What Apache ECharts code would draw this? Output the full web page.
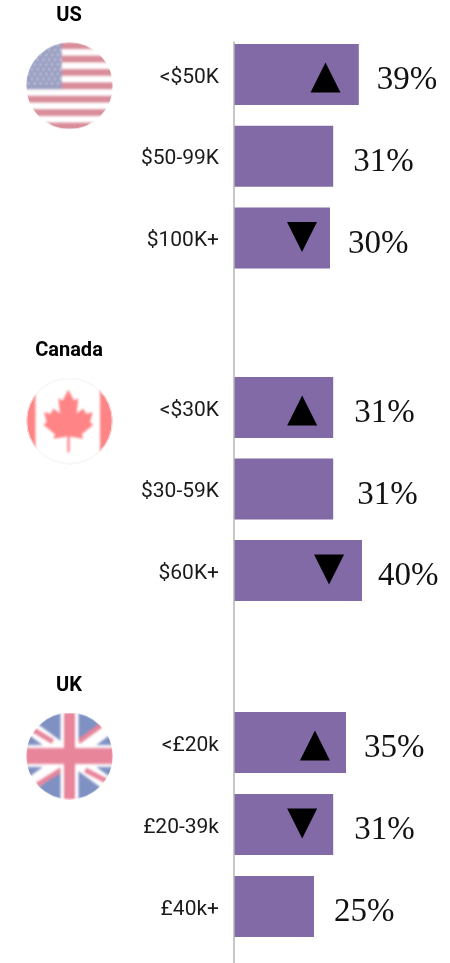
<!DOCTYPE html>
<html><head><meta charset="utf-8">
<style>html,body{margin:0;padding:0;background:#fff}#c{width:450px;height:963px}</style>
<script src="https://cdn.jsdelivr.net/npm/echarts@6/dist/echarts.min.js"></script>
</head><body><div id="c"></div>
<script>
// ---- data ----
const countries = ['US', 'Canada', 'UK'];
const usCategories = ['<$50K', '$50-99K', '$100K+'];
const caCategories = ['<$30K', '$30-59K', '$60K+'];
const ukCategories = ['<£20k', '£20-39k', '£40k+'];
const usValues = [39, 31, 30];
const caValues = [31, 31, 40];
const ukValues = [35, 31, 25];
const usTrend = ['up', null, 'down'];
const caTrend = ['up', null, 'down'];
const ukTrend = ['up', 'down', null];

// ---- layout / style ----
const PURPLE = '#826aa6';
const groupLayout = [
  {top: 33.6, height: 245.25, titleTop: 6, flagY: 42.3},
  {top: 366.75, height: 244.5, titleTop: 341, flagY: 377.5},
  {top: 701.5, height: 246, titleTop: 676, flagY: 712.5}
];
const labelGaps = [[18, 20, 18], [21, 24, 16], [18, 21, 20]];
const markerInset = [[10.4, 0, 8.75], [9.7, 0, 10.3], [9.7, 9.7, 0]];

function drawUS(g, s) {
  g.fillStyle = '#fff'; g.fillRect(0, 0, s, s);
  g.fillStyle = '#d98c9a';
  for (let i = 0; i < 13; i += 2) g.fillRect(0, i * s / 13, s, s / 13);
  g.fillStyle = '#9a9fc2'; g.fillRect(0, 0, s * 0.41, s * 7 / 13);
  g.fillStyle = '#e6e6f0';
  for (let r = 0; r < 9; r++) for (let c = 0; c < 6; c++) {
    g.beginPath();
    g.arc(s * 0.035 + c * s * 0.066 + (r % 2 ? s * 0.033 : 0), s * 0.035 + r * s * 0.055, s * 0.012, 0, 7);
    g.fill();
  }
}
function drawCA(g, s) {
  const k = s / 87;
  g.fillStyle = '#fff'; g.fillRect(0, 0, s, s);
  g.fillStyle = '#ff8486';
  g.fillRect(0, 0, 9.5 * k, s); g.fillRect(74 * k, 0, 14 * k, s);
  const leaf = [[205,165],[222,197],[235,190],[230,235],[250,222],[258,237],[278,232],[270,262],[280,270],[245,298],[250,312],[209,305],[209,352],[202,352],[202,305],[160,312],[165,298],[130,270],[140,262],[132,232],[152,237],[160,222],[180,235],[175,190],[188,197]];
  g.beginPath();
  leaf.forEach((p, i) => {
    const x = (p[0] - 78) / 3 * k, y = (p[1] - 128) / 3 * k;
    i ? g.lineTo(x, y) : g.moveTo(x, y);
  });
  g.closePath(); g.fill();
}
function drawUK(g, s) {
  const m = s / 2;
  g.fillStyle = '#7f90c2'; g.fillRect(0, 0, s, s);
  g.strokeStyle = '#fff'; g.lineWidth = 14;
  const dx = 60, dy = 44;
  g.beginPath();
  g.moveTo(m - dx, m - dy); g.lineTo(m + dx, m + dy);
  g.moveTo(m + dx, m - dy); g.lineTo(m - dx, m + dy);
  g.stroke();
  g.strokeStyle = '#e8859b'; g.lineWidth = 5;
  const reds = [[-36, -26, -16.7, -14.3], [32, -31, 9, -14.3], [40.7, 27, 15.7, 14], [-32.7, 29, -6, 12.3]];
  g.beginPath();
  reds.forEach(r => { g.moveTo(m + r[0], m + r[1]); g.lineTo(m + r[2], m + r[3]); });
  g.stroke();
  g.fillStyle = '#fff';
  g.fillRect(m - 9, 0, 18, s); g.fillRect(0, m - 11, s, 22);
  g.fillStyle = '#e8859b';
  g.fillRect(m - 5.5, 0, 11, s); g.fillRect(0, m - 8, s, 16);
}
function flag(draw, ring) {
  const S = 87, cv = document.createElement('canvas');
  cv.width = cv.height = S;
  const tmp = document.createElement('canvas');
  tmp.width = tmp.height = S;
  draw(tmp.getContext('2d'), S);
  const g = cv.getContext('2d');
  g.beginPath(); g.arc(S / 2, S / 2, S / 2 - 0.2, 0, 7); g.clip();
  g.filter = 'blur(1px)';
  g.drawImage(tmp, 0, 0);
  g.filter = 'none';
  if (ring) { g.strokeStyle = '#ececec'; g.lineWidth = 1; g.beginPath(); g.arc(S / 2, S / 2, S / 2 - 0.7, 0, 7); g.stroke(); }
  return cv;
}

const groups = [
  {cats: usCategories, vals: usValues, trend: usTrend, img: flag(drawUS)},
  {cats: caCategories, vals: caValues, trend: caTrend, img: flag(drawCA, true)},
  {cats: ukCategories, vals: ukValues, trend: ukTrend, img: flag(drawUK)}
];

const grid = [], xAxis = [], yAxis = [], series = [], title = [], graphic = [];
groups.forEach((gr, i) => {
  const L = groupLayout[i];
  grid.push({left: 234, width: 160, top: L.top, height: L.height});
  xAxis.push({gridIndex: i, type: 'value', min: 0, max: 50, show: false});
  yAxis.push({
    gridIndex: i, type: 'category', inverse: true, data: gr.cats,
    axisLine: {show: false}, axisTick: {show: false},
    axisLabel: {margin: 15, fontFamily: 'Roboto', fontSize: 21, color: '#1a1a1a', verticalAlign: 'top', lineHeight: 6}
  });
  series.push({
    type: 'bar', xAxisIndex: i, yAxisIndex: i, barWidth: 61, silent: true,
    itemStyle: {color: PURPLE},
    data: gr.vals.map((v, j) => ({
      value: v,
      label: {
        show: true, position: 'right', distance: labelGaps[i][j], offset: [0, 6],
        formatter: '{c}%', fontFamily: 'Liberation Serif', fontSize: 33, color: '#111'
      }
    }))
  });
  series.push({
    type: 'scatter', xAxisIndex: i, yAxisIndex: i, silent: true, z: 5,
    symbol: 'triangle', symbolSize: 30,
    itemStyle: {color: '#000', opacity: 1},
    data: gr.trend.map((t, j) => t ? {
      value: [gr.vals[j] - markerInset[i][j], gr.cats[j]],
      symbolRotate: t === 'up' ? 0 : 180,
      symbolOffset: [0, t === 'up' ? 3 : -1]
    } : null).filter(Boolean)
  });
  title.push({
    text: countries[i], left: 69, top: L.titleTop, textAlign: 'center', padding: 0,
    textStyle: {fontFamily: 'Roboto', fontWeight: 'bold', fontSize: 20, color: '#000'}
  });
  graphic.push({type: 'image', left: 26, top: L.flagY, silent: true,
    style: {image: gr.img, width: 87, height: 87}});
});
// full-height baseline shared by the three groups
grid.push({left: 234, width: 160, top: 42, height: 921});
xAxis.push({gridIndex: 3, type: 'value', min: 0, max: 50, show: false});
yAxis.push({
  gridIndex: 3, type: 'value', min: 0, max: 1, position: 'left', z: 6,
  axisLine: {show: true, lineStyle: {color: '#b4b4b4', width: 1.5}},
  axisTick: {show: false}, axisLabel: {show: false}, splitLine: {show: false}
});

const chart = echarts.init(document.getElementById('c'), null, {renderer: 'canvas'});
chart.setOption({animation: false, backgroundColor: '#fff', title, grid, xAxis, yAxis, series, graphic});
</script></body></html>
